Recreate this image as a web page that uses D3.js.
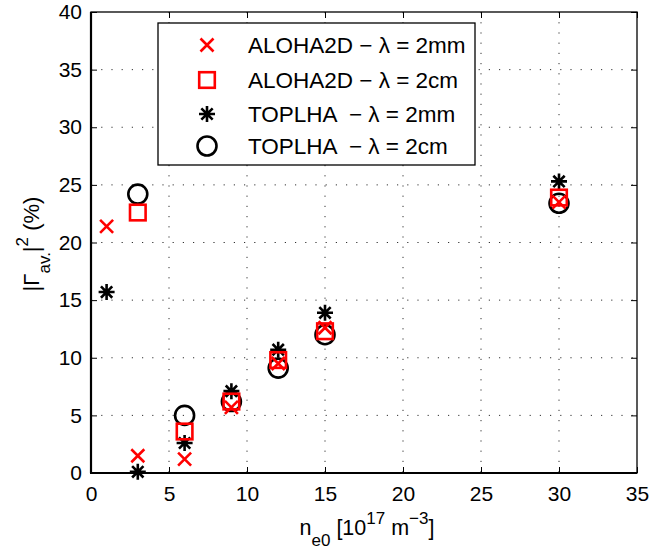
<!DOCTYPE html>
<html><head><meta charset="utf-8">
<script src="https://cdn.jsdelivr.net/npm/d3@7"></script>
<style>body{margin:0;background:#fff}svg{display:block}text{font-family:"Liberation Sans",Arial,sans-serif;white-space:pre}</style>
</head><body>
<script>
const xTicks=[0,5,10,15,20,25,30,35];
const yTicks=[0,5,10,15,20,25,30,35,40];
const aloha2mmX=[1,3,6,9,12,15,30];
const aloha2mmY=[21.4,1.5,1.2,5.7,9.5,12.6,23.5];
const aloha2cmX=[3,6,9,12,15,30];
const aloha2cmY=[22.6,3.6,6.2,9.8,12.3,23.9];
const toplha2mmX=[1,3,6,9,12,15,30];
const toplha2mmY=[15.7,0.1,2.6,7.1,10.7,13.9,25.3];
const toplha2cmX=[3,6,9,12,15,30];
const toplha2cmY=[24.2,5.0,6.2,9.1,12.0,23.4];
const legendLabels=["ALOHA2D − λ = 2mm","ALOHA2D − λ = 2cm","TOPLHA  − λ = 2mm","TOPLHA  − λ = 2cm"];

const W=659,H=552,L=91,R=637,T=12,B=473;
const FONT="Liberation Sans, Arial, sans-serif";
const svg=d3.select("body").append("svg").attr("width",W).attr("height",H);
const x=d3.scaleLinear().domain([0,35]).range([L,R]);
const y=d3.scaleLinear().domain([0,40]).range([B,T]);

// grid
const g=svg.append("g");
xTicks.slice(1,-1).forEach(v=>g.append("line").attr("x1",x(v)).attr("x2",x(v)).attr("y1",T).attr("y2",B).attr("stroke","#333").attr("stroke-width",1).attr("stroke-dasharray","1.2,9"));
yTicks.slice(1,-1).forEach(v=>g.append("line").attr("x1",L).attr("x2",R).attr("y1",y(v)).attr("y2",y(v)).attr("stroke","#333").attr("stroke-width",1).attr("stroke-dasharray","1.2,9"));

// axes
const fs=21;
svg.append("g").attr("transform",`translate(0,${B})`).call(d3.axisBottom(x).tickValues(xTicks).tickSize(-6).tickPadding(13).tickFormat(d3.format("d")))
 .call(a=>{a.select(".domain").remove();a.selectAll("text").attr("font-size",fs).attr("fill","#000").attr("font-family",FONT);});
svg.append("g").attr("transform",`translate(${L},0)`).call(d3.axisLeft(y).tickValues(yTicks).tickSize(-6).tickPadding(9).tickFormat(d3.format("d")))
 .call(a=>{a.select(".domain").remove();a.selectAll("text").attr("font-size",fs).attr("fill","#000").attr("font-family",FONT);});
svg.append("g").attr("transform",`translate(0,${T})`).call(d3.axisTop(x).tickValues(xTicks).tickSize(-6).tickFormat(""))
 .call(a=>a.select(".domain").remove());
svg.append("g").attr("transform",`translate(${R},0)`).call(d3.axisRight(y).tickValues(yTicks).tickSize(-6).tickFormat(""))
 .call(a=>a.select(".domain").remove());
svg.append("rect").attr("x",L).attr("y",T).attr("width",R-L).attr("height",B-T).attr("fill","none").attr("stroke","#000").attr("stroke-width",1.3);
svg.append("line").attr("x1",L-1).attr("x2",R).attr("y1",B).attr("y2",B).attr("stroke","#000").attr("stroke-width",2.2);
svg.append("line").attr("x1",L).attr("x2",L).attr("y1",T).attr("y2",B).attr("stroke","#000").attr("stroke-width",2.2);

// marker drawers
const sw=2.6;
function drawX(sel,cx,cy,s=6.5){sel.append("path").attr("d",`M${cx-s},${cy-s}L${cx+s},${cy+s}M${cx-s},${cy+s}L${cx+s},${cy-s}`).attr("stroke","#f00").attr("stroke-width",sw).attr("fill","none");}
function drawSq(sel,cx,cy,s=7.8){sel.append("rect").attr("x",cx-s).attr("y",cy-s).attr("width",2*s).attr("height",2*s).attr("stroke","#f00").attr("stroke-width",sw).attr("fill","none");}
function drawStar(sel,cx,cy,s=8){let d="";for(let i=0;i<4;i++){const a=i*Math.PI/4;d+=`M${cx-s*Math.cos(a)},${cy-s*Math.sin(a)}L${cx+s*Math.cos(a)},${cy+s*Math.sin(a)}`;}sel.append("path").attr("d",d).attr("stroke","#000").attr("stroke-width",sw).attr("fill","none");}
function drawO(sel,cx,cy,r=9.5){sel.append("circle").attr("cx",cx).attr("cy",cy).attr("r",r).attr("stroke","#000").attr("stroke-width",sw).attr("fill","none");}

const m=svg.append("g");
toplha2cmX.forEach((v,i)=>drawO(m,x(v),y(toplha2cmY[i])));
toplha2mmX.forEach((v,i)=>drawStar(m,x(v),y(toplha2mmY[i])));
aloha2cmX.forEach((v,i)=>drawSq(m,x(v),y(aloha2cmY[i])));
aloha2mmX.forEach((v,i)=>drawX(m,x(v),y(aloha2mmY[i])));

// legend
const lg=svg.append("g");
lg.append("rect").attr("x",158).attr("y",23).attr("width",317).attr("height",142).attr("fill","#fff").attr("stroke","#000").attr("stroke-width",1.3);
const rowsY=[45,80,114,146];
const drawers=[drawX,drawSq,drawStar,drawO];
rowsY.forEach((ry,i)=>{drawers[i](lg,207,ry);lg.append("text").attr("x",248).attr("y",ry+8).attr("font-size",22.5).attr("font-family",FONT).attr("xml:space","preserve").text(legendLabels[i]);});

// axis labels
const xl=svg.append("text").attr("x",367).attr("y",535).attr("text-anchor","middle").attr("font-size",21.5).attr("font-family",FONT);
xl.append("tspan").text("n");
xl.append("tspan").attr("font-size",17).attr("dy",11).text("e0");
xl.append("tspan").attr("dy",-11).text(" [10");
xl.append("tspan").attr("font-size",17).attr("dy",-11).text("17");
xl.append("tspan").attr("dy",11).text(" m");
xl.append("tspan").attr("font-size",17).attr("dy",-11).text("−3");
xl.append("tspan").attr("dy",11).text("]");

const yl=svg.append("text").attr("transform","translate(39,244) rotate(-90)").attr("text-anchor","middle").attr("font-size",22).attr("font-family",FONT);
yl.append("tspan").text("|Γ");
yl.append("tspan").attr("font-size",17).attr("dy",11).text("av.");
yl.append("tspan").attr("dy",-11).text("|");
yl.append("tspan").attr("font-size",17).attr("dy",-11).text("2");
yl.append("tspan").attr("dy",11).text(" (%)");
</script>
</body></html>
